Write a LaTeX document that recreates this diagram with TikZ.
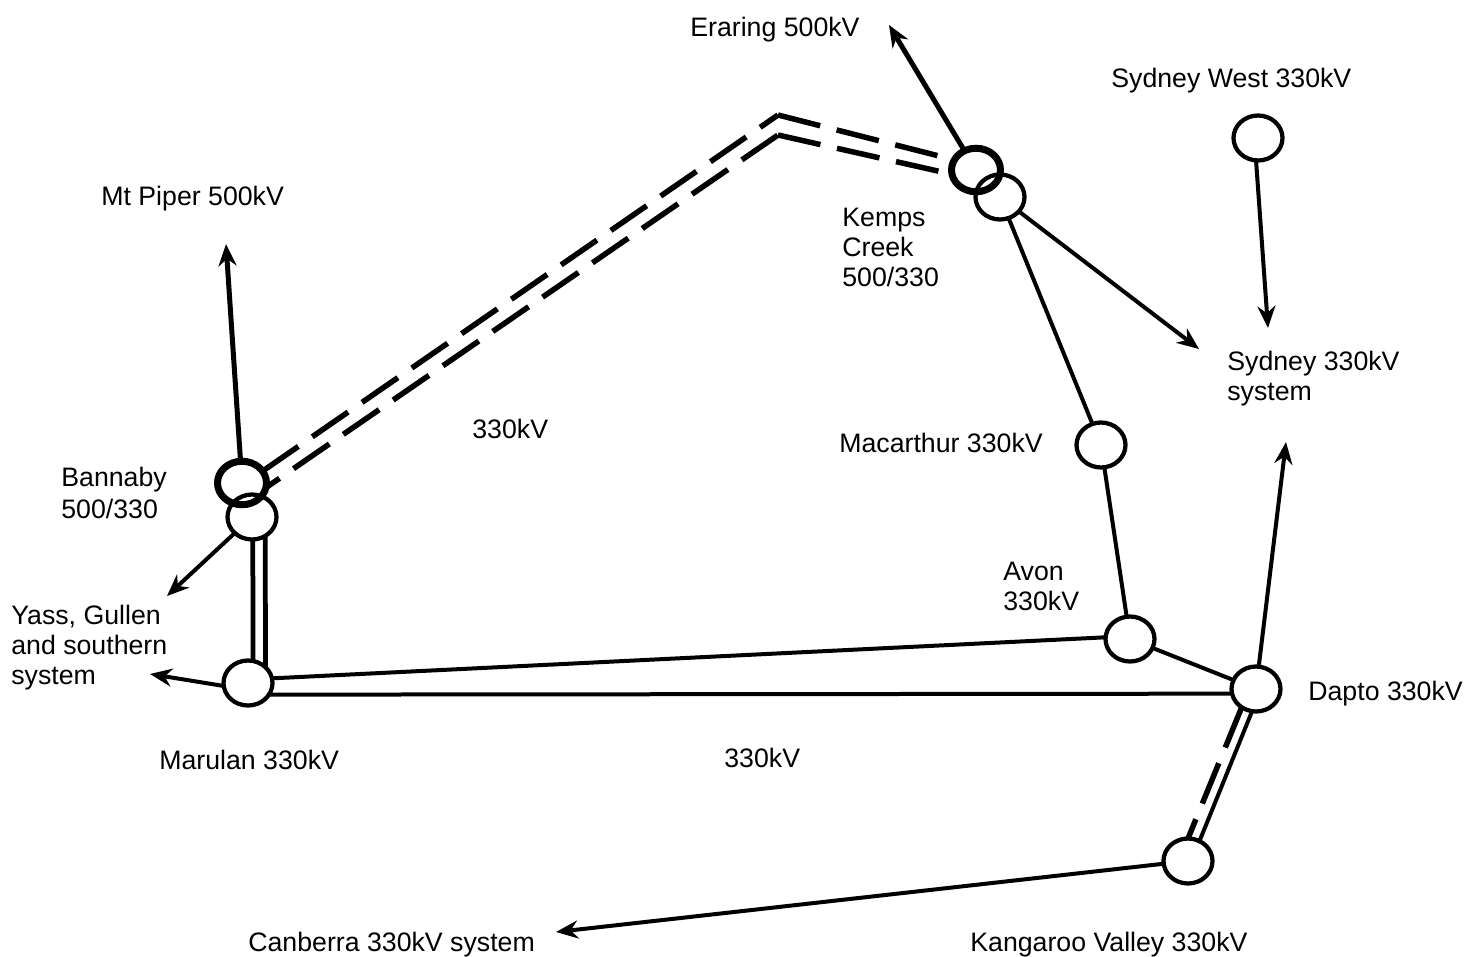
\documentclass[tikz,border=0pt]{standalone}
\usepackage{fontspec}
\setmainfont{Liberation Sans}
\usetikzlibrary{shapes.geometric,arrows.meta}
\tikzset{
    busbar/.style={draw, ellipse, line width=0.085cm, minimum width=0.98cm, minimum height=0.9cm, inner sep=0pt, outer sep=0pt},
    bigbus/.style={busbar, line width=0.14cm, minimum width=0.98cm, minimum height=0.87cm},
    lbl/.style={font=\fontsize{15.2}{17}\selectfont, align=left, inner sep=0pt, anchor=base west},
    line330/.style={line width=0.08cm},
    line500/.style={line width=0.095cm},
    dash500/.style={line width=0.11cm, dash pattern=on 0.87cm off 0.34cm},
    feed/.style={line width=0.08cm, -{Stealth[length=0.44cm,width=0.36cm]}},
    feed500/.style={line width=0.1cm, -{Stealth[length=0.44cm,width=0.36cm]}}
}
\begin{document}
\begin{tikzpicture}[x=0.02cm, y=-0.02cm]
    \useasboundingbox (0,0) rectangle (1478,957);

    % Substations
    \node[bigbus] (bannabyHi) at (242,483) {};
    \node[busbar] (bannabyLo) at (252,517) {};
    \node[busbar] (marulan) at (248,683) {};
    \node[bigbus] (kempsHi) at (976,170) {};
    \node[busbar] (kempsLo) at (1000,197) {};
    \node[busbar] (sydneyWest) at (1258,138) {};
    \node[busbar] (macarthur) at (1101,445) {};
    \node[busbar] (avon) at (1130,639) {};
    \node[busbar] (dapto) at (1256,689) {};
    \node[busbar] (kangaroo) at (1188,861) {};

    % Free line ends and bends
    \coordinate (mtPiper) at (226,244);
    \coordinate (eraring) at (889,25);
    \coordinate (yass) at (167,596);
    \coordinate (south) at (150,674);
    \coordinate (sydneySys) at (1199,349);
    \coordinate (sydneyIn) at (1268,328);
    \coordinate (daptoUp) at (1286,442);
    \coordinate (canberra) at (556,932);
    \coordinate (bendUp) at (778,115);
    \coordinate (bendLo) at (778,135);

    % 500kV double circuit, Bannaby to Kemps Creek
    \draw[dash500] (bannabyHi.30) -- (bendUp);
    \draw[dash500] (bendUp) -- (kempsHi.155);
    \draw[dash500, dash phase=0.54cm] (bannabyHi.-11) -- (bendLo);
    \draw[dash500] (bendLo) -- (kempsHi.190);

    % 500kV feeders
    \draw[feed500] (bannabyHi) -- (mtPiper);
    \draw[feed500] (kempsHi) -- (eraring);

    % Bannaby to Marulan
    \draw[line500] (bannabyLo.-88) -- (marulan.77);
    \draw[line500] (bannabyLo.-55) -- (marulan.42);

    % 330kV ring
    \draw[line330] (marulan.11) -- (avon.176);
    \draw[line330] (marulan.-29) -- (dapto.191);
    \draw[line330] (avon) -- (dapto);
    \draw[line330] (macarthur) -- (avon);
    \draw[line330] (kempsLo) -- (macarthur);

    % Dapto to Kangaroo Valley
    \draw[line330] (dapto.-100) -- (kangaroo.60);
    \draw[dash500] (dapto.-128) -- (kangaroo.90);

    % 330kV feeders
    \draw[feed] (bannabyLo) -- (yass);
    \draw[feed] (marulan.187) -- (south);
    \draw[feed] (kempsLo) -- (sydneySys);
    \draw[feed] (sydneyWest.-95) -- (sydneyIn);
    \draw[feed] (dapto) -- (daptoUp);
    \draw[feed] (kangaroo) -- (canberra);

    % Labels
    \node[lbl] (lblEraring) at (690,36) {Eraring 500kV};
    \node[lbl] (lblSydneyWest) at (1111,87) {Sydney West 330kV};
    \node[lbl] (lblMtPiper) at (101,205) {Mt Piper 500kV};
    \node[lbl] (lblKemps) at (842,286) {Kemps\\Creek\\500/330};
    \node[lbl] (lblSydney) at (1227,400) {Sydney 330kV\\system};
    \node[lbl] (lblMacarthur) at (839,452) {Macarthur 330kV};
    \node[lbl] (lblUpper) at (472,438) {330kV};
    \node[lbl] (lblBannaby) at (61,518) {Bannaby\\[1pt]500/330};
    \node[lbl] (lblYass) at (11,684) {Yass, Gullen\\and southern\\system};
    \node[lbl] (lblAvon) at (1003,610) {Avon\\330kV};
    \node[lbl] (lblDapto) at (1308,700) {Dapto 330kV};
    \node[lbl] (lblMarulan) at (159,769) {Marulan 330kV};
    \node[lbl] (lblLower) at (724,767) {330kV};
    \node[lbl] (lblCanberra) at (248,951) {Canberra 330kV system};
    \node[lbl] (lblKangaroo) at (970,951) {Kangaroo Valley 330kV};
\end{tikzpicture}
\end{document}
